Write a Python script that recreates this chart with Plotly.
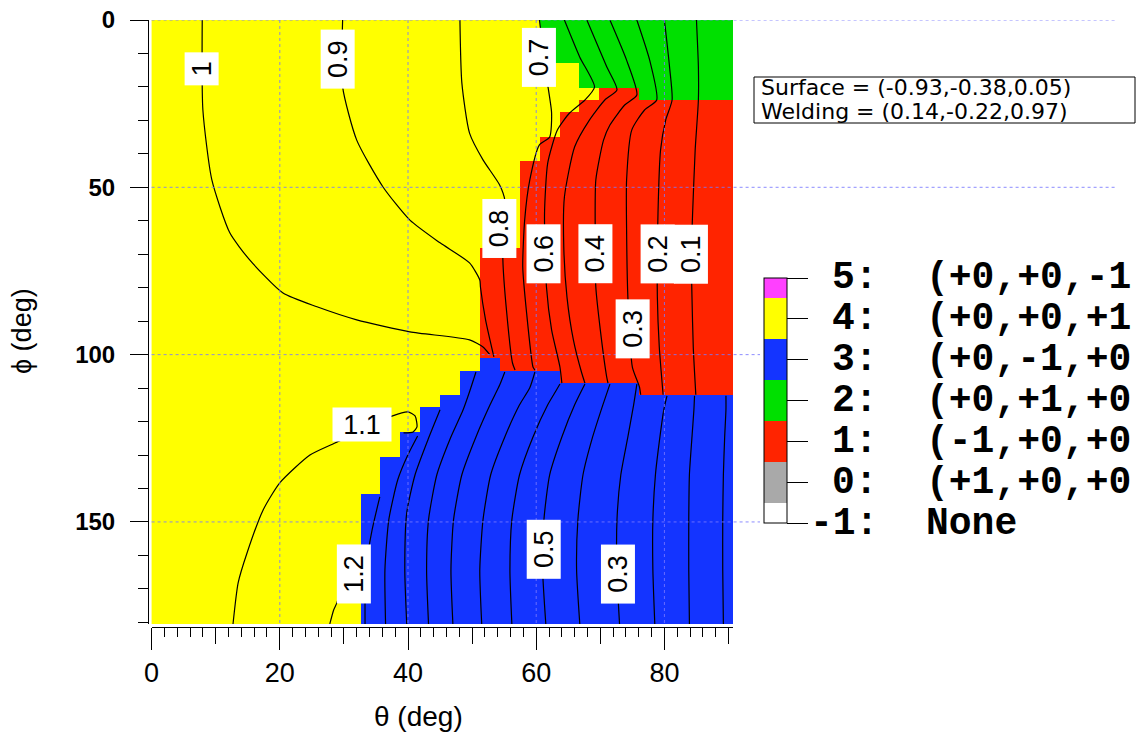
import plotly.graph_objects as go

# ---------------- orientation map grid ----------------
THETA_MAX = 90.0
PHI_MAX = 180.0
N_THETA = 30
N_PHI = 50
theta_grid = [THETA_MAX * i / (N_THETA - 1) for i in range(N_THETA)]
phi_grid = [PHI_MAX * j / (N_PHI - 1) for j in range(N_PHI)]

# category codes
NONE, PX, MX, PY, MY, PZ, MZ = -1, 0, 1, 2, 3, 4, 5

# number of yellow (+z) cells at the left of each phi row
yellow_cols = [20, 20, 20, 20, 22, 22, 23, 22, 21, 21,
               20, 20, 19, 19, 19, 19, 19, 19, 19, 17,
               17, 17, 17, 17, 17, 17, 17, 17, 17, 16,
               16, 15, 14, 14, 13, 13, 12, 12, 12, 11,
               11, 11, 11, 11, 11, 11, 11, 11, 11, 11]
# number of green (+y) rows at the top of each theta column
green_rows = [0] * 20 + [6] * 5 + [7] * 5
# first blue (-y) row of each theta column
blue_start = [28] * 18 + [29] * 3 + [30] * 4 + [31] * 5

z = []
for j in range(N_PHI):
    row = []
    for i in range(N_THETA):
        if i < yellow_cols[j]:
            row.append(PZ)
        elif j < green_rows[i]:
            row.append(PY)
        elif j >= blue_start[i]:
            row.append(MY)
        else:
            row.append(MX)
    z.append(row)

# ---------------- iso-lines (theta, phi) ----------------
c_y100 = ([7.9, 8.0, 9.4, 12.2, 15.3, 20.5, 25.8, 32.0, 40.3, 49.6, 51.7, 52.8],
          [0, 26.9, 47.8, 63.6, 71.7, 81.6, 85.7, 89.6, 93.2, 95.6, 97.7, 100.1])
c_090 = ([29.8, 29.8, 32.0, 36.1, 40.3, 45.0, 49.6, 51.2, 51.3, 52.1, 53.4],
         [0, 20.0, 35.9, 49.9, 59.8, 66.6, 72.6, 77.7, 79.8, 89.6, 100.7])
c_080 = ([48.1, 48.4, 49.6, 51.7, 54.3, 55.1, 54.9, 54.8, 55.4, 56.3, 56.7],
         [0, 18.8, 33.8, 41.8, 49.3, 53.8, 62.7, 71.7, 87.5, 102.5, 104.6])
c_070 = ([60.5, 61.6, 62.4, 62.1, 60.5, 59.0, 58.2, 57.9, 58.5, 59.5, 59.8],
         [0, 17.0, 27.8, 35.0, 37.3, 47.8, 59.8, 73.8, 87.5, 103.7, 104.6])
c_060 = ([64.4, 66.8, 69.1, 67.6, 65.2, 63.3, 61.8, 61.3, 61.6, 62.4, 63.7, 64.0],
         [0, 11.1, 20.0, 23.9, 27.8, 32.9, 42.7, 57.7, 79.8, 92.6, 103.7, 108.5])
c_050 = ([67.9, 71.0, 72.6, 70.7, 68.3, 66.0, 64.4, 64.3, 64.8, 65.8, 67.1, 67.6],
         [0, 14.0, 20.9, 23.9, 29.9, 37.9, 52.9, 67.8, 82.8, 95.6, 105.5, 108.5])
c_040 = ([71.5, 74.1, 75.7, 73.8, 71.5, 70.5, 69.3, 69.2, 69.3, 70.0, 71.0, 71.2],
         [0, 12.0, 22.4, 25.4, 31.4, 35.9, 47.8, 62.7, 79.8, 92.6, 106.7, 108.5])
c_030 = ([75.7, 77.7, 78.8, 76.9, 74.9, 74.1, 74.1, 74.3, 75.0, 76.1, 76.3],
         [0, 12.0, 23.9, 26.9, 32.9, 47.8, 62.7, 82.8, 103.7, 109.6, 112.0])
c_020 = ([80.0, 80.8, 81.2, 80.2, 79.4, 79.0, 78.9, 79.2, 79.8],
         [0, 14.0, 23.9, 29.9, 38.8, 57.7, 82.8, 97.7, 112.0])
c_010 = ([85.0, 85.3, 85.3, 84.8, 84.4, 84.2, 84.3, 84.5, 84.9],
         [0, 14.0, 23.9, 38.8, 57.7, 70.0, 82.8, 97.7, 112.0])
c_y110 = ([12.7, 13.5, 14.9, 17.4, 20.0, 24.7, 28.6, 37.6, 39.97, 41.1, 41.4, 40.8, 39.3],
          [180.5, 168.2, 159.2, 146.4, 138.3, 130.0, 126.4, 118.3, 117.1, 118.3, 121.6, 123.1, 123.4])
c_y120 = ([27.8, 28.4, 28.9, 29.5],
          [180.5, 176.3, 174.2, 170.0])
b_120 = ([33.3, 33.4, 34.4, 35.6], [180.5, 164.3, 152.4, 142.5])
b_110 = ([36.5, 36.4, 37.0, 38.4, 39.97, 41.5], [180.5, 164.3, 149.4, 137.4, 130.0, 124.3])
b_100 = ([39.8, 39.5, 39.8, 41.1, 43.1, 45.0], [180.5, 164.3, 147.3, 135.9, 125.5, 116.5])
b_090 = ([43.2, 42.9, 43.2, 44.5, 46.5, 48.6, 49.6, 50.6],
         [180.5, 164.3, 149.4, 135.9, 125.5, 116.5, 111.1, 105.2])
b_080 = ([47.0, 46.7, 47.1, 48.4, 50.6, 52.8, 54.3, 55.1],
         [180.5, 164.3, 149.4, 135.9, 124.6, 115.0, 109.1, 105.2])
b_070 = ([51.5, 51.2, 51.7, 52.9, 55.1, 57.4, 59.0, 59.8],
         [180.5, 164.3, 149.4, 135.9, 124.6, 115.0, 109.9, 105.2])
b_060 = ([56.2, 55.9, 56.2, 57.4, 59.5, 61.8, 63.0, 63.7],
         [180.5, 164.3, 149.4, 135.9, 124.6, 115.0, 111.1, 108.8])
b_050 = ([61.5, 61.0, 61.2, 62.1, 64.0, 66.0, 67.6], [180.5, 164.3, 149.4, 135.9, 124.6, 115.0, 108.8])
b_040 = ([66.8, 66.3, 66.5, 67.3, 68.8, 70.4, 71.5], [180.5, 164.3, 149.4, 135.9, 124.6, 115.0, 108.8])
b_030 = ([73.0, 72.6, 72.6, 73.2, 74.3, 75.2, 75.7], [180.5, 165.5, 149.4, 135.9, 124.6, 115.0, 108.8])
b_020 = ([78.5, 78.2, 78.2, 78.6, 79.3, 79.9, 80.4], [180.5, 164.3, 149.4, 135.9, 124.6, 116.5, 112.3])
b_010 = ([83.9, 83.8, 83.8, 83.9, 84.3, 84.6, 84.7], [180.5, 164.3, 149.4, 135.9, 124.6, 116.5, 112.3])
b_000 = ([89.2, 89.1, 89.1, 89.2, 89.4, 89.6, 89.6], [180.5, 164.3, 149.4, 135.9, 124.6, 116.5, 112.3])

iso_lines = [c_y100, c_090, c_080, c_070, c_060, c_050, c_040, c_030, c_020, c_010,
             c_y110, c_y120, b_120, b_110, b_100, b_090, b_080, b_070, b_060,
             b_050, b_040, b_030, b_020, b_010, b_000]

# iso-line labels
lbl_text = ["1", "0.9", "0.7", "0.8", "0.6", "0.4", "0.2", "0.1", "0.3", "1.1", "1.2", "0.5", "0.3"]
lbl_theta = [7.86, 29.1, 60.5, 54.3, 61.2, 69.3, 79.0, 84.2, 75.1, 32.9, 31.6, 61.1, 72.8]
lbl_phi = [14.6, 11.65, 11.05, 62.4, 69.9, 69.9, 69.9, 69.9, 92.3, 121.0, 165.5, 158.1, 165.5]
lbl_angle = [-90, -90, -90, -90, -90, -90, -90, -90, -90, 0, -90, -90, -90]

# legend of categories (vector text as far as it is visible in the picture)
cat_values = [-1, 0, 1, 2, 3, 4, 5]
cat_vectors = ["None", "(+1,+0,+0", "(-1,+0,+0", "(+0,+1,+0", "(+0,-1,+0", "(+0,+0,+1", "(+0,+0,-1"]

info_lines = ["Surface = (-0.93,-0.38,0.05)", "Welding = (0.14,-0.22,0.97)"]

x_major = [0, 20, 40, 60, 80]
x_mid = [10, 30, 50, 70, 90]
y_major = [0, 50, 100, 150]
x_grid = [20, 40, 60, 80]
y_grid = [0, 50, 100, 150]

# ---------------- styling ----------------
WHITE, GRAY, RED, GREEN, BLUE, YELLOW, MAGENTA = ("#ffffff", "#a9a9a9", "#ff2400", "#00e000",
                                                   "#1434ff", "#ffff00", "#ff40ff")
ZMIN, ZMAX = -1, 5


def nrm(v):
    return (v - ZMIN) / (ZMAX - ZMIN)


cols = [WHITE, GRAY, RED, GREEN, BLUE, YELLOW, MAGENTA]
edges = [ZMIN, -0.5, 0.5, 1.5, 2.5, 3.5, 4.5, ZMAX]
colorscale = []
for k, c in enumerate(cols):
    colorscale.append([nrm(edges[k]), c])
    colorscale.append([nrm(edges[k + 1]), c])

W, H = 1141, 734
ML, MR, MT, MB = 148, 408, 20, 107
PW, PH = W - ML - MR, H - MT - MB
XD0 = 3.6 / PW
YD0 = 3.0 / PH


def px(x):
    return (x - ML) / PW


def py(y):
    return (H - MB - y) / PH


X_RANGE = [0, 90.7]
Y_RANGE = [180.5, 0]

# colour bar geometry (pixels)
CB_LEFT, CB_TOP, CB_BOT = 764, 278, 523
CB_LEN = CB_BOT - CB_TOP


def cb_y(v):
    return CB_BOT - (v - ZMIN) * CB_LEN / (ZMAX - ZMIN)


MONO = dict(family="Liberation Mono", size=38, color="black", weight="bold")

fig = go.Figure()
fig.add_trace(go.Heatmap(
    x=theta_grid, y=phi_grid, z=z, zmin=ZMIN, zmax=ZMAX, colorscale=colorscale,
    hoverinfo="skip",
    colorbar=dict(
        tickmode="array", tickvals=cat_values, showticklabels=False,
        ticks="outside", ticklen=21, tickwidth=1, tickcolor="black",
        outlinewidth=1, outlinecolor="black", thickness=23, thicknessmode="pixels",
        len=CB_LEN, lenmode="pixels", x=px(CB_LEFT), xanchor="left", xpad=0,
        y=py((CB_TOP + CB_BOT) / 2), yanchor="middle", ypad=0, borderwidth=0,
    ),
))

for th, ph in iso_lines:
    fig.add_trace(go.Scatter(x=th, y=ph, mode="lines", line=dict(color="black", width=1.2, shape="spline",
                                                                  smoothing=0.6),
                             hoverinfo="skip", showlegend=False))

# dummy trace carrying the mid-size theta ticks axis
fig.add_trace(go.Scatter(x=[X_RANGE[0]], y=[Y_RANGE[1]], xaxis="x2", mode="markers",
                         marker=dict(opacity=0), hoverinfo="skip", showlegend=False))

shapes = []
GRID = dict(color="rgba(120,120,255,0.85)", width=1, dash="dot")
for g in x_grid:
    shapes.append(dict(type="line", xref="x", yref="y", x0=g, x1=g, y0=0, y1=Y_RANGE[0], line=GRID,
                       layer="above"))
for g in y_grid:
    xend = px(1117) if g < 100 else px(760)
    shapes.append(dict(type="line", xref="paper", yref="y", x0=XD0, x1=xend, y0=g, y1=g, line=GRID,
                       layer="above"))
shapes.append(dict(type="rect", xref="paper", yref="paper", x0=px(754), x1=px(1135), y0=py(123), y1=py(77),
                   line=dict(color="black", width=1), fillcolor="rgba(0,0,0,0)"))

ann = []
for t, th, ph, ang in zip(lbl_text, lbl_theta, lbl_phi, lbl_angle):
    ann.append(dict(x=th, y=ph, xref="x", yref="y", text=t, showarrow=False, textangle=ang,
                    font=dict(family="Liberation Sans", size=27, color="black"),
                    bgcolor="white", borderpad=0, width=32 if len(t) == 1 else 58, height=33))
for v, vec in zip(cat_values, cat_vectors):
    ann.append(dict(x=px(880), y=py(cb_y(v)), xref="paper", yref="paper", text=f"{v}:", showarrow=False,
                    xanchor="right", yanchor="middle", font=MONO))
    ann.append(dict(x=px(924), y=py(cb_y(v)), xref="paper", yref="paper", text=vec, showarrow=False,
                    xanchor="left", yanchor="middle", font=MONO))
for k, line in enumerate(info_lines):
    ann.append(dict(x=px(759), y=py(88 + 24 * k), xref="paper", yref="paper", text=line, showarrow=False,
                    xanchor="left", yanchor="middle",
                    font=dict(family="DejaVu Sans", size=22, color="black")))
ann.append(dict(x=px(418), y=py(716), xref="paper", yref="paper", text="θ (deg)", showarrow=False,
                xanchor="center", yanchor="middle", font=dict(family="Liberation Sans", size=28, color="black")))
ann.append(dict(x=px(22), y=py(331), xref="paper", yref="paper", text="ϕ (deg)", showarrow=False,
                textangle=-90, xanchor="center", yanchor="middle",
                font=dict(family="Liberation Sans", size=27, color="black")))

fig.update_layout(
    width=W, height=H, margin=dict(l=ML, r=MR, t=MT, b=MB, autoexpand=False),
    paper_bgcolor="white", plot_bgcolor="white", showlegend=False,
    xaxis=dict(domain=[XD0, 1], range=X_RANGE, anchor="free", position=0, showline=True,
               linecolor="black", linewidth=1, showgrid=False, zeroline=False,
               tickmode="array", tickvals=x_major, ticks="outside", ticklen=22, tickwidth=1,
               tickcolor="black", ticklabelstandoff=0,
               tickfont=dict(family="Liberation Sans Narrow, Liberation Sans", size=27, color="black"),
               minor=dict(dtick=2, tick0=0, ticks="outside", ticklen=9, tickwidth=1, tickcolor="black",
                          showgrid=False)),
    xaxis2=dict(domain=[XD0, 1], range=X_RANGE, overlaying="x", anchor="free", position=0,
                showline=False, showgrid=False, zeroline=False, tickmode="array", tickvals=x_mid,
                ticks="outside", ticklen=16, tickwidth=1, tickcolor="black", showticklabels=False),
    yaxis=dict(domain=[YD0, 1], range=Y_RANGE, anchor="free", position=0, showline=True,
               linecolor="black", linewidth=1, showgrid=False, zeroline=False,
               tickmode="array", tickvals=y_major, ticks="outside", ticklen=18, tickwidth=1,
               tickcolor="black", ticklabelstandoff=10,
               tickfont=dict(family="Liberation Sans", size=24, color="black", weight="bold"),
               minor=dict(dtick=10, tick0=0, ticks="outside", ticklen=10, tickwidth=1, tickcolor="black",
                          showgrid=False)),
    shapes=shapes, annotations=ann,
)

fig.write_html("out.html")
